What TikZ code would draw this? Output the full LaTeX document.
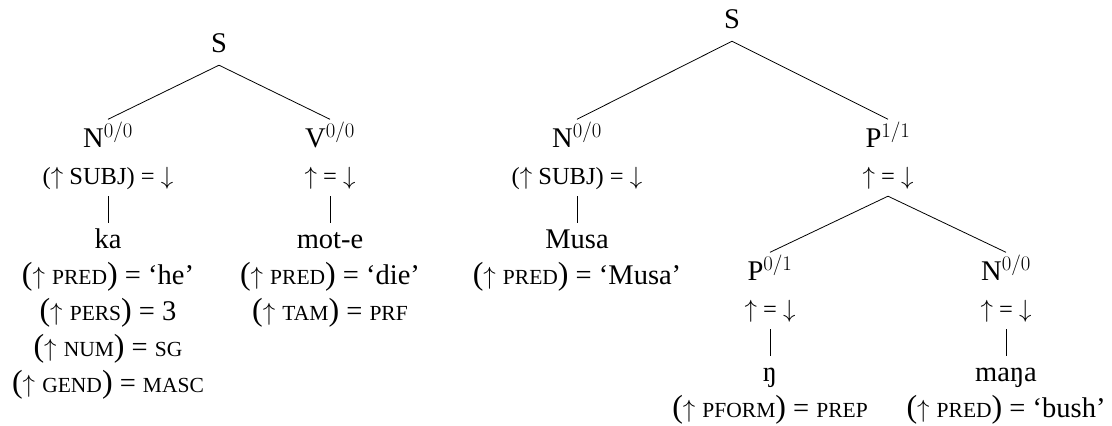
\documentclass[tikz,border=0pt]{standalone}
\usepackage{fontspec}
\setmainfont{Liberation Serif}
% small capitals faked with reduced upper-case letters
\newcommand\fsc[1]{{\fontsize{21.5pt}{21.5pt}\selectfont #1}}
% slightly enlarged round brackets for the equations
\newcommand\lpar{{\fontsize{32pt}{32pt}\selectfont(}}
\newcommand\rpar{{\fontsize{32pt}{32pt}\selectfont)}}
\tikzset{
  cat/.style={font=\fontsize{28.5pt}{34pt}\selectfont, anchor=base,
    inner xsep=0pt, text height=19.5pt, text depth=5pt, inner ysep=8pt},
  ann/.style={font=\fontsize{24.5pt}{29pt}\selectfont, anchor=base,
    inner xsep=0pt, text height=16pt, text depth=5pt, inner ysep=7pt},
  word/.style={font=\fontsize{28.5pt}{34pt}\selectfont, anchor=base,
    inner xsep=0pt, text height=19.5pt, text depth=5pt, inner ysep=5.5pt},
  eqn/.style={font=\fontsize{28.5pt}{34pt}\selectfont, anchor=base, inner sep=0pt},
  branch/.style={line width=0.8pt}
}
\begin{document}
\begin{tikzpicture}[x=1pt,y=-1pt]
\useasboundingbox (0,0) rectangle (1112,426);

% ---- first tree: ka mot-e ----
\node[cat] (S1) at (219,52) {S};
\node[cat] (N1) at (108,147) {N$^{0/0}$};
\node[cat] (V1) at (330,147) {V$^{0/0}$};
\node[ann] (N1f) at (108,184) {($\uparrow$ SUBJ) = $\downarrow$};
\node[ann] (V1f) at (330,184) {$\uparrow$ = $\downarrow$};
\node[word] (ka) at (108,248) {ka};
\node[word] (mote) at (330,248) {mot-e};
\node[eqn] (ka1) at (108,284) {\lpar$\uparrow$ \fsc{PRED}\rpar{} = ‘he’};
\node[eqn] (ka2) at (108,320) {\lpar$\uparrow$ \fsc{PERS}\rpar{} = 3};
\node[eqn] (ka3) at (108,356) {\lpar$\uparrow$ \fsc{NUM}\rpar{} = \fsc{SG}};
\node[eqn] (ka4) at (108,392) {\lpar$\uparrow$ \fsc{GEND}\rpar{} = \fsc{MASC}};
\node[eqn] (mote1) at (330,284) {\lpar$\uparrow$ \fsc{PRED}\rpar{} = ‘die’};
\node[eqn] (mote2) at (330,320) {\lpar$\uparrow$ \fsc{TAM}\rpar{} = \fsc{PRF}};

\draw[branch] (S1.south) -- (N1.north);
\draw[branch] (S1.south) -- (V1.north);
\draw[branch] (N1f.south) -- (ka.north);
\draw[branch] (V1f.south) -- (mote.north);

% ---- second tree: Musa ŋ maŋa ----
\node[cat] (S2) at (732,28) {S};
\node[cat] (N2) at (577,147) {N$^{0/0}$};
\node[cat] (P2) at (888,147) {P$^{1/1}$};
\node[ann] (N2f) at (577,184) {($\uparrow$ SUBJ) = $\downarrow$};
\node[ann] (P2f) at (888,184) {$\uparrow$ = $\downarrow$};
\node[word] (musa) at (577,248) {Musa};
\node[eqn] (musa1) at (577,284) {\lpar$\uparrow$ \fsc{PRED}\rpar{} = ‘Musa’};

\node[cat] (P3) at (770,280) {P$^{0/1}$};
\node[cat] (N3) at (1006,280) {N$^{0/0}$};
\node[ann] (P3f) at (770,317) {$\uparrow$ = $\downarrow$};
\node[ann] (N3f) at (1006,317) {$\uparrow$ = $\downarrow$};
\node[word] (eng) at (770,381) {ŋ};
\node[word] (manga) at (1006,381) {maŋa};
\node[eqn] (eng1) at (770,417) {\lpar$\uparrow$ \fsc{PFORM}\rpar{} = \fsc{PREP}};
\node[eqn] (manga1) at (1006,417) {\lpar$\uparrow$ \fsc{PRED}\rpar{} = ‘bush’};

\draw[branch] (S2.south) -- (N2.north);
\draw[branch] (S2.south) -- (P2.north);
\draw[branch] (P2f.south) -- (P3.north);
\draw[branch] (P2f.south) -- (N3.north);
\draw[branch] (N2f.south) -- (musa.north);
\draw[branch] (P3f.south) -- (eng.north);
\draw[branch] (N3f.south) -- (manga.north);
\end{tikzpicture}
\end{document}
